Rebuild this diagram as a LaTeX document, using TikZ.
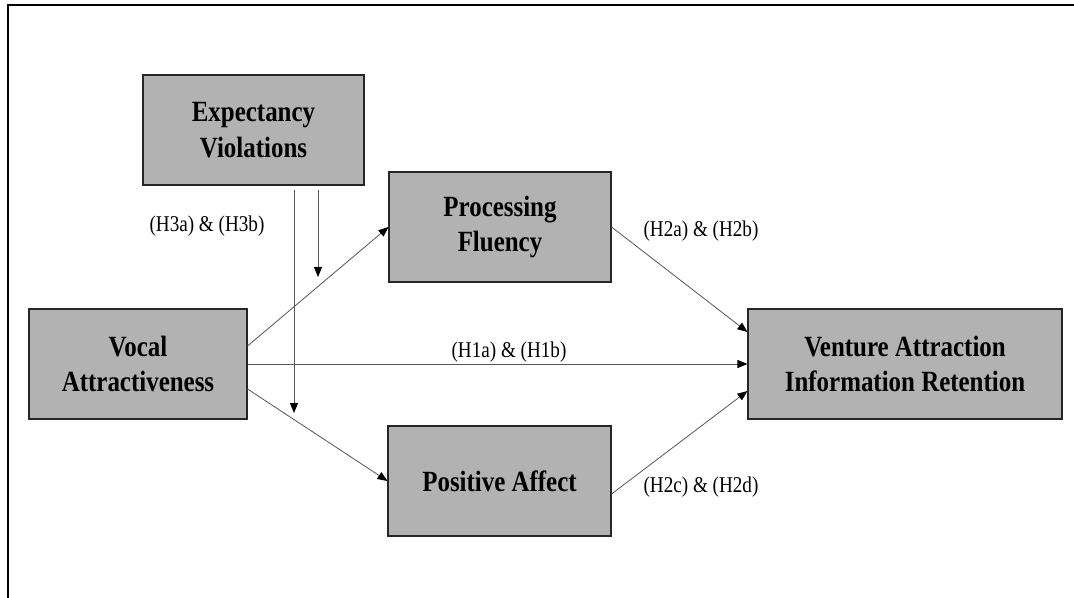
\documentclass[tikz,border=0pt]{standalone}
\usepackage{fontspec}
\setmainfont{Liberation Serif}
\newfontfamily\narrowserif[FakeStretch=0.85]{Liberation Serif}
\usetikzlibrary{arrows.meta}
\definecolor{boxgray}{RGB}{178,178,178}
\definecolor{linegray}{RGB}{85,85,85}

\begin{document}
\begin{tikzpicture}[x=0.75pt,y=-0.75pt,
  box/.style={draw=black!85,fill=boxgray,line width=0.8pt,minimum height=82.5pt,inner sep=0pt,align=center,font=\narrowserif\bfseries\fontsize{22}{26.5}\selectfont},
  hyp/.style={font=\narrowserif\fontsize{16.9}{20}\selectfont,inner sep=0pt},
  arr/.style={draw=linegray,line width=0.6pt,-{Triangle[length=7.5pt,width=6pt,color=black]}}]
  \useasboundingbox (0,0) rectangle (1074,598);

  % Frame
  \draw[line width=1.5pt] (1074,5) -- (8,5) -- (8,598);

  % Boxes
  \node[box,minimum width=165.75pt] (ev) at (253.5,130) {Expectancy\\Violations};
  \node[box,minimum width=166.5pt] (pf) at (500,227) {Processing\\Fluency};
  \node[box,minimum width=163.5pt] (va) at (138,364) {Vocal\\Attractiveness};
  \node[box,minimum width=167.25pt] (pa) at (499.5,481) {Positive Affect};
  \node[box,minimum width=235.5pt] (vr) at (905,364) {Venture Attraction\\Information Retention};

  % Paths
  \draw[arr] ([yshift=13.5pt]va.east) -- (pf.west);
  \draw[arr] (va.east) -- (vr.west);
  \draw[arr] ([yshift=-18.75pt]va.east) -- (pa.west);
  \draw[arr] (pf.east) -- ([yshift=24pt]vr.west);
  \draw[arr] ([yshift=-9.75pt]pa.east) -- ([yshift=-20.25pt]vr.west);

  % Moderation
  \coordinate (mod1) at (294,413);
  \coordinate (mod2) at (318,277);
  \draw[arr,shorten <=3pt] (ev.south -| mod1) -- (mod1);
  \draw[arr,shorten <=3pt] (ev.south -| mod2) -- (mod2);

  % Hypotheses
  \node[hyp] (h3) at (207,226) {(H3a) \& (H3b)};
  \node[hyp] (h1) at (509,352) {(H1a) \& (H1b)};
  \node[hyp] (h2ab) at (701,231) {(H2a) \& (H2b)};
  \node[hyp] (h2cd) at (701,487) {(H2c) \& (H2d)};
\end{tikzpicture}
\end{document}
